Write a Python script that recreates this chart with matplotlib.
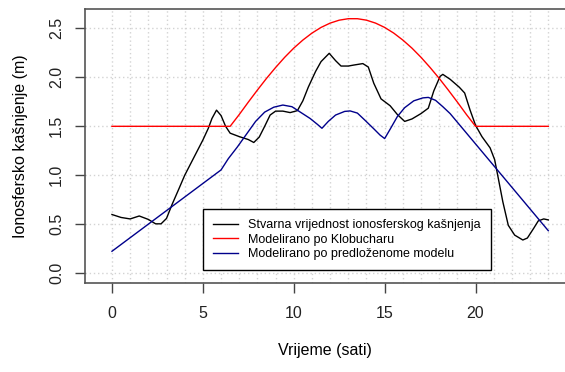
import numpy as np
import matplotlib.pyplot as plt
from matplotlib.ticker import FixedLocator

plt.rcParams['font.family'] = ['Liberation Sans', 'DejaVu Sans']

# stvarna (izmjerena) vrijednost ionosferskog kasnjenja
sati_stvarno = [0.0, 0.5, 1.0, 1.5, 2.0, 2.4, 2.7, 3.0, 3.3, 3.7, 4.0, 4.5, 5.0, 5.3,
                5.5, 5.75, 6.0, 6.25, 6.5, 7.0, 7.5, 7.8, 8.1, 8.4, 8.7, 9.0, 9.4,
                9.8, 10.2, 10.5, 10.8, 11.2, 11.5, 11.95, 12.3, 12.6, 13.0, 13.3,
                13.8, 14.1, 14.4, 14.8, 15.3, 15.7, 16.1, 16.5, 17.0, 17.4, 17.7,
                18.05, 18.2, 18.6, 19.1, 19.4, 19.7, 20.0, 20.35, 20.8, 21.05, 21.25,
                21.5, 21.8, 22.15, 22.6, 22.85, 23.2, 23.45, 23.75, 24.0]
kasnjenje_stvarno = [0.60, 0.57, 0.555, 0.585, 0.55, 0.505, 0.505, 0.56, 0.70, 0.87,
                     1.00, 1.18, 1.36, 1.48, 1.58, 1.665, 1.61, 1.50, 1.43, 1.395,
                     1.365, 1.335, 1.39, 1.50, 1.615, 1.655, 1.655, 1.64, 1.66, 1.76,
                     1.90, 2.06, 2.16, 2.245, 2.17, 2.115, 2.115, 2.125, 2.14, 2.105,
                     1.94, 1.78, 1.71, 1.62, 1.55, 1.575, 1.63, 1.685, 1.86, 2.01,
                     2.03, 1.98, 1.90, 1.84, 1.665, 1.51, 1.395, 1.28, 1.16, 0.97,
                     0.73, 0.49, 0.39, 0.34, 0.36, 0.46, 0.535, 0.555, 0.545]

# Klobucharov model
sati_klobuchar = [0.0, 6.5, 7.0, 7.5, 8.0, 8.5, 9.0, 9.5, 10.0, 10.5, 11.0, 11.5, 12.0,
                  12.5, 13.0, 13.5, 14.0, 14.5, 15.0, 15.5, 16.0, 16.5, 17.0, 17.5,
                  18.0, 18.5, 19.0, 19.5, 20.0, 24.0]
kasnjenje_klobuchar = [1.5, 1.5, 1.62, 1.747, 1.87, 1.989, 2.10, 2.204, 2.298, 2.38,
                       2.451, 2.509, 2.553, 2.583, 2.598, 2.598, 2.583, 2.553, 2.509,
                       2.451, 2.38, 2.298, 2.204, 2.10, 1.989, 1.87, 1.747, 1.62, 1.5, 1.5]

# predlozeni model
sati_model = [0.0, 6.0, 6.4, 6.9, 7.4, 7.9, 8.4, 8.9, 9.4, 9.9, 10.4, 10.9, 11.3, 11.55,
              11.9, 12.3, 12.8, 13.1, 13.5, 13.9, 14.4, 14.75, 15.0, 15.3, 15.7, 16.1,
              16.6, 17.1, 17.4, 17.8, 18.2, 18.6, 24.0]
kasnjenje_model = [0.225, 1.055, 1.17, 1.29, 1.42, 1.55, 1.645, 1.695, 1.717, 1.70,
                   1.64, 1.58, 1.52, 1.48, 1.55, 1.615, 1.652, 1.657, 1.635, 1.565,
                   1.475, 1.41, 1.375, 1.47, 1.60, 1.69, 1.76, 1.79, 1.795, 1.765,
                   1.70, 1.63, 0.435]

x_ticks = [0, 5, 10, 15, 20]
y_ticks = [0.0, 0.5, 1.0, 1.5, 2.0, 2.5]

fig = plt.figure(figsize=(5.65, 3.72), dpi=100)
ax = fig.add_axes([0.1504, 0.2384, 0.8496, 0.7374])

ax.plot(sati_stvarno, kasnjenje_stvarno, color='black', lw=1.0,
        label='Stvarna vrijednost ionosferskog kašnjenja')
ax.plot(sati_klobuchar, kasnjenje_klobuchar, color='red', lw=1.0,
        label='Modelirano po Klobucharu')
ax.plot(sati_model, kasnjenje_model, color='#00008B', lw=1.0,
        label='Modelirano po predloženome modelu')

ax.set_xlim(-1.485, 24.92)
ax.set_ylim(-0.102, 2.697)

ax.set_xticks(x_ticks)
ax.set_yticks(y_ticks)
ax.set_yticklabels([f'{v:.1f}' for v in y_ticks], rotation=90, va='center')
ax.xaxis.set_minor_locator(FixedLocator(range(0, 25)))

ax.grid(which='both', axis='x', color='#d3d3d3', linestyle=(0, (1, 2)), lw=1)
ax.grid(which='major', axis='y', color='#d3d3d3', linestyle=(0, (1, 2)), lw=1)
ax.set_axisbelow(True)

ax.tick_params(which='major', direction='out', length=7, width=1, color='#444444',
               labelsize=11.5, labelcolor='#222222')
ax.tick_params(axis='x', pad=9)
ax.tick_params(axis='y', pad=8)
ax.tick_params(which='minor', length=0)

for side in ['left', 'bottom', 'top']:
    ax.spines[side].set_color('#555555')
    ax.spines[side].set_linewidth(1.2)
ax.spines['right'].set_visible(False)

ax.set_xlabel('Vrijeme (sati)', fontsize=11.5, labelpad=16)
ax.set_ylabel('Ionosfersko kašnjenje (m)', fontsize=11.5, labelpad=15)

leg = ax.legend(loc='upper left', bbox_to_anchor=(0.2465, 0.2698), borderaxespad=0,
                fontsize=9.0, fancybox=False, framealpha=1, edgecolor='black',
                handlelength=2.0, handletextpad=0.8, labelspacing=0.2,
                borderpad=0.8)
leg.get_frame().set_linewidth(1.0)

fig.savefig('out.png', dpi=100)
